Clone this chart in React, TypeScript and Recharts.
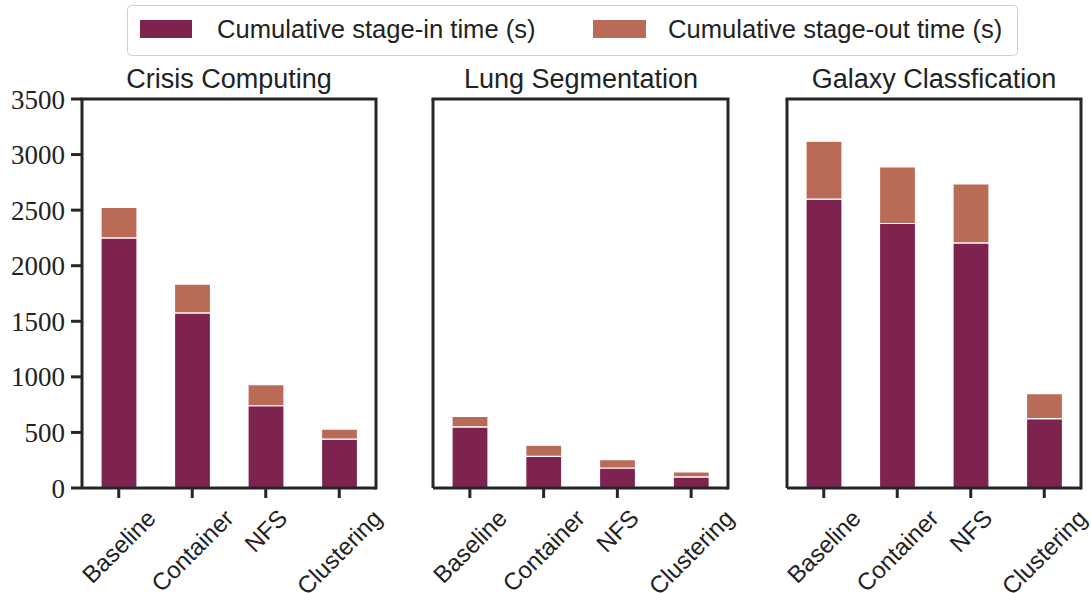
import { BarChart, Bar, XAxis, YAxis } from 'recharts'

const categories = ['Baseline', 'Container', 'NFS', 'Clustering']
const yTicks = [0, 500, 1000, 1500, 2000, 2500, 3000, 3500]

const crisisIn = [2250, 1575, 740, 440]
const crisisOut = [275, 260, 190, 90]
const lungIn = [550, 285, 180, 100]
const lungOut = [95, 100, 75, 45]
const galaxyIn = [2600, 2380, 2205, 625]
const galaxyOut = [520, 510, 530, 225]

const IN_COLOR = '#7e2350'
const OUT_COLOR = '#b96b56'
const AXIS = '#262626'
const SANS = '"Liberation Sans", Arial, sans-serif'
const SERIF = '"Liberation Serif", "Times New Roman", serif'
const TICK_FONT = 24
const PLOT_TOP = 99
const PLOT_H = 389
const RIGHT_PAD = 20

const toRows = (stageIn, stageOut) =>
  categories.map((name, i) => ({ name, stageIn: stageIn[i], stageOut: stageOut[i] }))

let ctx = null
const measure = (s, font) => {
  if (!ctx) ctx = document.createElement('canvas').getContext('2d')
  ctx.font = font
  return ctx.measureText(s).width
}

// rotated label, centred under the tick like matplotlib's ha='center'
const RotatedTick = ({ x, y, payload }) => {
  const w = measure(payload.value, `${TICK_FONT}px ${SANS}`)
  const h = TICK_FONT * 1.15
  const half = (w + h) / (2 * Math.SQRT2)
  const cy = y + 4 + half
  return (
    <g transform={`translate(${x},${cy}) rotate(-45)`}>
      <text
        textAnchor="middle"
        dominantBaseline="central"
        fontFamily={SANS}
        fontSize={TICK_FONT}
        fill="#222"
      >
        {payload.value}
      </text>
    </g>
  )
}

const Panel = ({ rows, left, yWidth, plotWidth, showLabels }) => (
  <>
    <div style={{ position: 'absolute', left, top: PLOT_TOP - 5 }}>
      <BarChart
        width={yWidth + plotWidth + RIGHT_PAD}
        height={5 + PLOT_H + 105}
        data={rows}
        margin={{ top: 5, right: RIGHT_PAD, bottom: 0, left: 0 }}
        barCategoryGap={0}
      >
        <XAxis
          dataKey="name"
          height={105}
          interval={0}
          tick={<RotatedTick />}
          tickSize={10}
          tickLine={{ stroke: AXIS, strokeWidth: 3 }}
          axisLine={{ stroke: AXIS, strokeWidth: 3 }}
        />
        <YAxis
          width={yWidth}
          domain={[0, 3500]}
          ticks={yTicks}
          interval={0}
          tickSize={11}
          tickMargin={6}
          tick={showLabels ? { fill: '#222', fontSize: 27, fontFamily: SERIF } : false}
          tickLine={{ stroke: AXIS, strokeWidth: 3 }}
          axisLine={{ stroke: AXIS, strokeWidth: 3 }}
        />
        <Bar
          dataKey="stageIn"
          stackId="s"
          fill={IN_COLOR}
          stroke="#fff"
          strokeWidth={1.2}
          barSize={36}
          isAnimationActive={false}
        />
        <Bar
          dataKey="stageOut"
          stackId="s"
          fill={OUT_COLOR}
          stroke="#fff"
          strokeWidth={1.2}
          barSize={36}
          isAnimationActive={false}
        />
      </BarChart>
    </div>
    {/* top and right spines */}
    <svg
      width={plotWidth + 10}
      height={PLOT_H + 10}
      style={{ position: 'absolute', left: left + yWidth - 5, top: PLOT_TOP - 5, pointerEvents: 'none' }}
    >
      <polyline
        points={`5,5 ${plotWidth + 5},5 ${plotWidth + 5},${PLOT_H + 5}`}
        fill="none"
        stroke={AXIS}
        strokeWidth={3}
        strokeLinecap="square"
      />
    </svg>
  </>
)

const titles = [
  { text: 'Crisis Computing', cx: 229 },
  { text: 'Lung Segmentation', cx: 581 },
  { text: 'Galaxy Classfication', cx: 934 },
]

export default function App() {
  return (
    <div
      style={{
        position: 'absolute',
        left: 0,
        top: 0,
        width: 1091,
        height: 593,
        background: '#fff',
        overflow: 'hidden',
      }}
    >
      <style>{'.recharts-surface { overflow: visible; }'}</style>
      <svg width={1091} height={100} style={{ position: 'absolute', left: 0, top: 0 }}>
        <rect x={127.5} y={5.5} width={890} height={50} rx={4} fill="#fff" stroke="#d0d0d0" strokeWidth={1} />
        <rect x={140} y={20} width={52} height={18} fill={IN_COLOR} />
        <text x={217} y={38} fontFamily={SANS} fontSize={25.6} fill="#222">
          Cumulative stage-in time (s)
        </text>
        <rect x={593} y={20} width={53} height={18} fill={OUT_COLOR} />
        <text x={668} y={38} fontFamily={SANS} fontSize={25.6} fill="#222">
          Cumulative stage-out time (s)
        </text>
        {titles.map((t) => (
          <text key={t.text} x={t.cx} y={88} textAnchor="middle" fontFamily={SANS} fontSize={27} fill="#222">
            {t.text}
          </text>
        ))}
      </svg>
      <Panel rows={toRows(crisisIn, crisisOut)} left={0} yWidth={82} plotWidth={294} showLabels />
      <Panel rows={toRows(lungIn, lungOut)} left={413} yWidth={20} plotWidth={295} />
      <Panel rows={toRows(galaxyIn, galaxyOut)} left={767} yWidth={20} plotWidth={294} />
    </div>
  )
}
